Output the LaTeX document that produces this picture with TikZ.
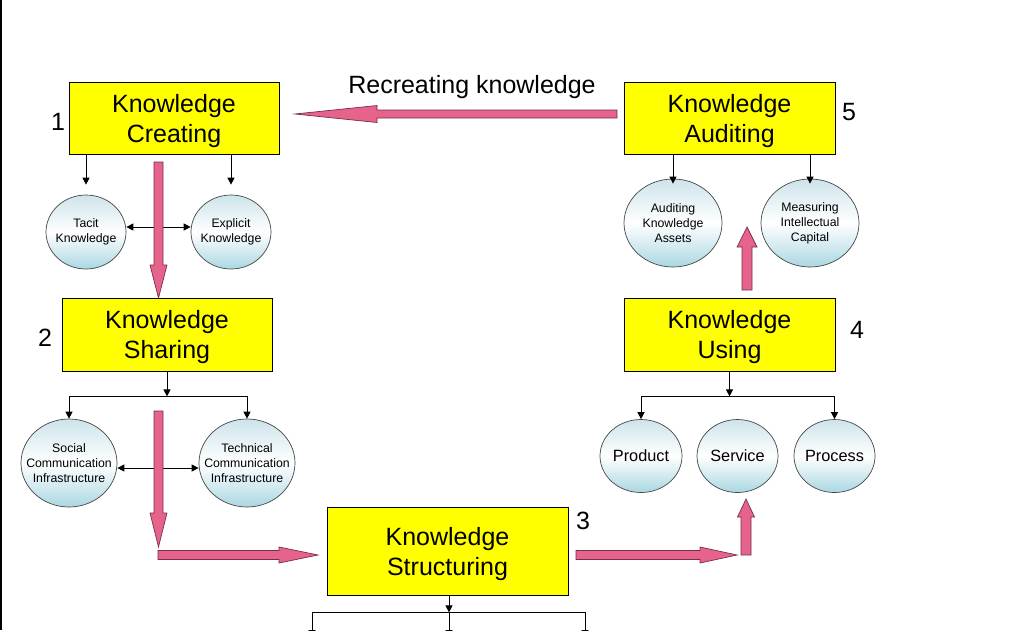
\documentclass[tikz,border=0pt]{standalone}
\usepackage{fontspec}
\setmainfont{Liberation Sans}
\usetikzlibrary{shapes.geometric,arrows.meta,calc}
\definecolor{kyellow}{RGB}{255,255,0}
\definecolor{kpink}{RGB}{230,100,140}
\definecolor{kpinkline}{RGB}{120,45,75}
\definecolor{bubtop}{RGB}{205,228,235}
\definecolor{bubbot}{RGB}{170,215,226}
\definecolor{bubline}{RGB}{70,70,70}
\newcommand{\vblockarrow}[6]{%
 \draw[pinkarrow] ({#1-#5},#2) -- ({#1+#5},#2) -- ({#1+#5},#3) -- ({#1+#6},#3) -- (#1,#4) -- ({#1-#6},#3) -- ({#1-#5},#3) -- cycle;}
\newcommand{\hblockarrow}[6]{%
 \draw[pinkarrow] (#2,{#1-#5}) -- (#2,{#1+#5}) -- (#3,{#1+#5}) -- (#3,{#1+#6}) -- (#4,#1) -- (#3,{#1-#6}) -- (#3,{#1-#5}) -- cycle;}
\tikzset{
  kbox/.style={draw=black, line width=0.8pt, fill=kyellow, align=center, inner sep=0pt,
    text depth=0pt, font=\fontsize{25}{30}\selectfont},
  bub/.style={ellipse, draw=bubline, line width=0.7pt, top color=bubtop, bottom color=bubbot, middle color=white, inner sep=0pt},
  btxt/.style={align=center, inner sep=0pt, font=\fontsize{12.3}{15}\selectfont},
  bigtxt/.style={align=center, inner sep=0pt, font=\fontsize{16.3}{19}\selectfont},
  num/.style={inner sep=0pt, font=\fontsize{25}{30}\selectfont},
  conn/.style={line width=1pt, -{Triangle[length=7pt,width=7pt]}},
  dconn/.style={line width=1pt, {Triangle[length=7pt,width=7pt]}-{Triangle[length=7pt,width=7pt]}},
  plain/.style={line width=1pt},
  pinkarrow/.style={draw=kpinkline, line width=0.7pt, fill=kpink, line join=miter}
}
\begin{document}
\begin{tikzpicture}[x=1pt,y=-1pt]
\useasboundingbox (0,0) rectangle (1024,630);
\fill[white] (0,0) rectangle (1024,630);
\clip (0,0) rectangle (1024,630);
\draw[line width=2pt] (1,0) -- (1,630);

% main boxes
\node[kbox, minimum width=210pt, minimum height=72pt] (c1) at (174,118) {Knowledge\\Creating};
\node[kbox, minimum width=210pt, minimum height=73pt] (s2) at (167,334.5) {Knowledge\\Sharing};
\node[kbox, minimum width=241pt, minimum height=88pt] (st3) at (447.5,551) {Knowledge\\Structuring};
\node[kbox, minimum width=211pt, minimum height=73pt] (u4) at (729.5,334.5) {Knowledge\\Using};
\node[kbox, minimum width=211pt, minimum height=72pt] (a5) at (729.5,118) {Knowledge\\Auditing};

% numbers
\node[num] (n1) at (58,122) {1};
\node[num] (n2) at (45,338) {2};
\node[num] (n3) at (583,521) {3};
\node[num] (n4) at (857,330) {4};
\node[num] (n5) at (849,112) {5};

% ellipses
\node[bub, minimum width=80pt, minimum height=74pt] (tacit) at (86,232) {};
\node[btxt] (tacitT) at (tacit) {Tacit\\Knowledge};
\node[bub, minimum width=80pt, minimum height=74pt] (expl) at (231,232) {};
\node[btxt] (explT) at (expl) {Explicit\\Knowledge};
\node[bub, minimum width=96pt, minimum height=88pt] (soc) at (69,463) {};
\node[btxt] (socT) at (soc) {Social\\Communication\\Infrastructure};
\node[bub, minimum width=96pt, minimum height=88pt] (tech) at (247,463) {};
\node[btxt] (techT) at (tech) {Technical\\Communication\\Infrastructure};
\node[bub, minimum width=98pt, minimum height=88pt] (aka) at (673,223) {};
\node[btxt] (akaT) at (aka) {Auditing\\Knowledge\\Assets};
\node[bub, minimum width=98pt, minimum height=88pt] (mic) at (810,223) {};
\node[btxt] (micT) at (mic) {Measuring\\Intellectual\\Capital};
\node[bub, minimum width=82pt, minimum height=73pt] (prod) at (641,456) {};
\node[bigtxt] (prodT) at (prod) {Product};
\node[bub, minimum width=81pt, minimum height=73pt] (serv) at (737.5,456) {};
\node[bigtxt] (servT) at (serv) {Service};
\node[bub, minimum width=81pt, minimum height=73pt] (proc) at (834.5,456) {};
\node[bigtxt] (procT) at (proc) {Process};

% recreating label
\node[num] (rec) at (472,87) {Recreating knowledge};

% thin connectors: creating
\draw[conn, shorten >=10pt] (c1.south -| tacit.north) -- (tacit.north);
\draw[conn, shorten >=10pt] (c1.south -| expl.north) -- (expl.north);
\draw[dconn] ([yshift=5pt]tacit.east) -- ([yshift=5pt]expl.west);

% sharing
\coordinate (sp2) at ($(s2.south)+(0,25)$);
\draw[conn] (s2.south) -- (sp2);
\draw[plain] (sp2 -| soc.north) -- (sp2 -| tech.north);
\draw[conn] (sp2 -| soc.north) -- (soc.north);
\draw[conn] (sp2 -| tech.north) -- (tech.north);
\draw[dconn] ([yshift=-5pt]soc.east) -- ([yshift=-5pt]tech.west);

% using
\coordinate (sp4) at ($(u4.south)+(0,25)$);
\draw[conn] (u4.south) -- (sp4);
\draw[plain] (sp4 -| prod.north) -- (sp4 -| proc.north);
\draw[conn] (sp4 -| prod.north) -- (prod.north);
\draw[conn] (sp4 -| proc.north) -- (proc.north);

% auditing
\draw[conn, shorten >=-5pt] (a5.south -| aka.north) -- (aka.north);
\draw[conn, shorten >=-5pt] (a5.south -| mic.north) -- (mic.north);

% structuring
\coordinate (sp3) at ($(st3.south)+(1.5,17)$);
\coordinate (b1) at (312,637);
\coordinate (b2) at (449,637);
\coordinate (b3) at (585,637);
\draw[conn] (st3.south -| sp3) -- (sp3);
\draw[plain] (sp3 -| b1) -- (sp3 -| b3);
\draw[conn] (sp3 -| b1) -- (b1);
\draw[conn] (sp3 -| b2) -- (b2);
\draw[conn] (sp3 -| b3) -- (b3);

% pink block arrows
\vblockarrow{158.5}{162}{265}{298}{4.5}{8.5}
\vblockarrow{158.5}{411}{513}{547}{4.5}{8.5}
\hblockarrow{555}{158}{279}{318}{4.5}{8}
\hblockarrow{555}{576}{700}{737}{4.5}{8}
\vblockarrow{746}{555}{517}{499}{5}{8.5}
\vblockarrow{747}{290}{247}{227}{5}{10}
\hblockarrow{114}{617}{377}{295}{4}{8.5}
\end{tikzpicture}
\end{document}
